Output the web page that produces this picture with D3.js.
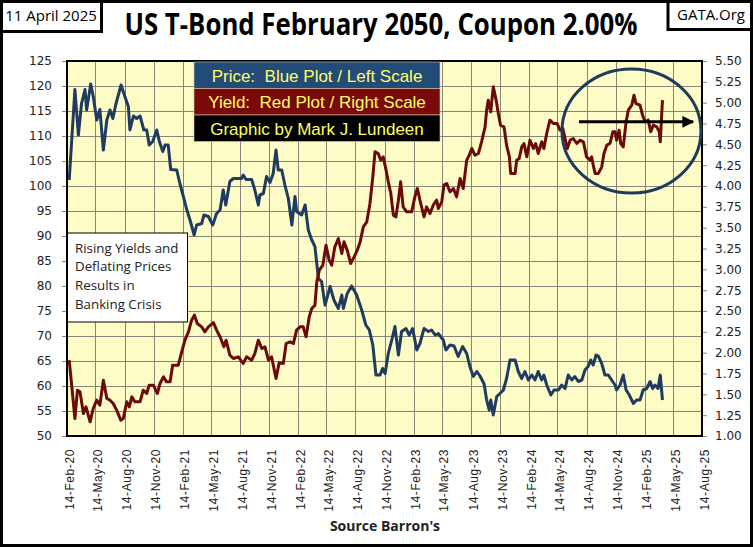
<!DOCTYPE html>
<html>
<head>
<meta charset="utf-8">
<script src="https://cdn.jsdelivr.net/npm/d3@7"></script>
<style>
  body { margin: 0; background: #fff; }
  svg { display: block; }
</style>
</head>
<body>
<svg id="chart"></svg>
<script>
// tick labels
var xTickLabels = ["14-Feb-20","14-May-20","14-Aug-20","14-Nov-20","14-Feb-21","14-May-21","14-Aug-21","14-Nov-21",
  "14-Feb-22","14-May-22","14-Aug-22","14-Nov-22","14-Feb-23","14-May-23","14-Aug-23","14-Nov-23",
  "14-Feb-24","14-May-24","14-Aug-24","14-Nov-24","14-Feb-25","14-May-25","14-Aug-25"];
var priceTicks = [50,55,60,65,70,75,80,85,90,95,100,105,110,115,120,125];
var yieldTicks = [1.00,1.25,1.50,1.75,2.00,2.25,2.50,2.75,3.00,3.25,3.50,3.75,4.00,4.25,4.50,4.75,5.00,5.25,5.50];

// weekly price of the bond (left scale)
var priceData = [
  ["2020-02-21",101.2],["2020-03-10",119.3],["2020-03-21",110.2],["2020-03-31",116.5],["2020-04-11",119.3],
  ["2020-04-16",115.2],["2020-04-29",120.4],["2020-05-07",117.9],["2020-05-18",113.2],["2020-05-28",115.3],
  ["2020-06-08",107.2],["2020-06-19",113.2],["2020-06-29",115.2],["2020-07-08",113.5],["2020-07-18",116.5],
  ["2020-08-03",120.2],["2020-08-15",117.9],["2020-08-26",115.9],["2020-08-31",111.2],["2020-09-11",114.0],
  ["2020-09-21",113.5],["2020-10-02",114.0],["2020-10-14",111.2],["2020-10-23",111.2],["2020-10-31",108.2],
  ["2020-11-11",108.9],["2020-11-24",111.2],["2020-12-02",108.9],["2020-12-13",106.9],["2020-12-20",108.2],
  ["2020-12-30",108.2],["2021-01-07",103.3],["2021-01-26",103.2],["2021-02-05",100.5],["2021-02-16",97.9],
  ["2021-02-27",95.2],["2021-03-09",93.2],["2021-03-22",90.2],["2021-03-30",92.2],["2021-04-15",92.5],
  ["2021-04-22",94.2],["2021-05-06",93.9],["2021-05-20",92.2],["2021-06-01",94.5],["2021-06-12",95.2],
  ["2021-06-22",99.2],["2021-06-30",96.2],["2021-07-13",100.9],["2021-07-24",101.5],["2021-08-19",101.5],
  ["2021-08-24",102.2],["2021-09-02",101.3],["2021-09-20",101.3],["2021-09-30",99.2],["2021-10-11",96.2],
  ["2021-10-16",98.2],["2021-10-27",98.5],["2021-11-06",101.9],["2021-11-17",100.7],["2021-11-27",102.5],
  ["2021-12-06",107.2],["2021-12-13",103.2],["2021-12-24",103.2],["2022-01-03",100.2],["2022-01-14",97.5],
  ["2022-01-25",92.2],["2022-02-04",97.9],["2022-02-09",94.9],["2022-02-25",94.2],["2022-03-08",96.2],
  ["2022-03-18",91.2],["2022-03-29",89.2],["2022-04-08",87.9],["2022-04-19",81.5],["2022-04-29",80.9],
  ["2022-05-10",76.2],["2022-05-26",79.9],["2022-06-07",77.2],["2022-06-21",75.5],["2022-07-02",78.2],
  ["2022-07-07",75.5],["2022-07-19",78.5],["2022-08-02",80.0],["2022-08-18",78.2],["2022-09-03",75.2],
  ["2022-09-16",72.2],["2022-09-27",71.2],["2022-10-08",68.2],["2022-10-18",62.2],["2022-10-31",62.2],
  ["2022-11-08",63.5],["2022-11-16",62.5],["2022-11-26",66.5],["2022-12-07",69.2],["2022-12-17",71.9],
  ["2022-12-28",66.2],["2023-01-07",70.9],["2023-01-21",71.5],["2023-01-31",70.2],["2023-02-11",71.5],
  ["2023-02-24",67.2],["2023-03-06",68.5],["2023-03-19",71.5],["2023-04-02",70.9],["2023-04-12",71.2],
  ["2023-04-23",70.2],["2023-05-03",70.5],["2023-05-19",69.2],["2023-05-27",67.2],["2023-06-09",68.2],
  ["2023-06-22",68.0],["2023-07-05",65.9],["2023-07-19",67.9],["2023-08-01",66.5],["2023-08-11",63.9],
  ["2023-08-22",61.9],["2023-09-02",62.9],["2023-09-12",62.0],["2023-09-25",60.4],["2023-10-03",57.2],
  ["2023-10-11",55.2],["2023-10-16",57.2],["2023-10-24",54.2],["2023-11-04",57.9],["2023-11-14",58.5],
  ["2023-11-25",59.2],["2023-12-05",61.5],["2023-12-16",65.2],["2024-01-01",65.2],["2024-01-11",62.9],
  ["2024-01-22",61.5],["2024-02-01",62.9],["2024-02-12",61.2],["2024-02-23",62.2],["2024-03-04",61.2],
  ["2024-03-14",62.9],["2024-03-25",61.2],["2024-04-01",62.2],["2024-04-10",60.2],["2024-04-23",58.2],
  ["2024-05-03",59.2],["2024-05-17",59.2],["2024-05-27",60.2],["2024-06-07",59.5],["2024-06-17",62.2],
  ["2024-06-28",61.2],["2024-07-08",61.9],["2024-07-19",60.9],["2024-07-30",61.2],["2024-08-09",63.2],
  ["2024-08-19",63.9],["2024-08-27",65.2],["2024-09-04",64.2],["2024-09-13",66.2],["2024-09-20",66.0],
  ["2024-10-01",64.5],["2024-10-11",62.2],["2024-10-22",62.2],["2024-11-01",61.2],["2024-11-12",60.2],
  ["2024-11-17",59.2],["2024-11-28",60.2],["2024-12-08",62.2],["2024-12-17",59.2],["2024-12-27",58.2],
  ["2025-01-09",56.5],["2025-01-19",57.2],["2025-01-30",57.2],["2025-02-09",59.2],["2025-02-20",59.5],
  ["2025-03-03",60.9],["2025-03-11",59.5],["2025-03-18",60.2],["2025-03-28",59.5],["2025-04-04",62.2],
  ["2025-04-11",57.2]
];

// weekly yield to maturity (right scale)
var yieldData = [
  ["2020-02-21",1.91],["2020-03-10",1.21],["2020-03-18",1.55],["2020-03-26",1.53],["2020-04-06",1.27],
  ["2020-04-14",1.35],["2020-04-27",1.17],["2020-05-07",1.33],["2020-05-18",1.43],["2020-05-28",1.37],
  ["2020-06-08",1.67],["2020-06-19",1.45],["2020-06-29",1.43],["2020-07-09",1.39],["2020-07-20",1.31],
  ["2020-08-02",1.19],["2020-08-10",1.21],["2020-08-21",1.41],["2020-08-29",1.35],["2020-09-06",1.47],
  ["2020-09-16",1.41],["2020-10-02",1.41],["2020-10-12",1.55],["2020-10-23",1.51],["2020-10-31",1.61],
  ["2020-11-13",1.61],["2020-11-26",1.51],["2020-12-04",1.63],["2020-12-15",1.71],["2020-12-25",1.65],
  ["2021-01-05",1.65],["2021-01-13",1.85],["2021-01-31",1.85],["2021-02-08",1.97],["2021-02-21",2.15],
  ["2021-03-04",2.25],["2021-03-14",2.39],["2021-03-23",2.45],["2021-04-01",2.35],["2021-04-15",2.31],
  ["2021-04-25",2.25],["2021-05-06",2.31],["2021-05-22",2.36],["2021-06-01",2.27],["2021-06-12",2.19],
  ["2021-06-24",2.07],["2021-07-01",2.15],["2021-07-13",1.97],["2021-07-24",1.93],["2021-08-09",1.95],
  ["2021-08-24",1.87],["2021-09-04",1.95],["2021-09-20",1.91],["2021-09-30",1.99],["2021-10-11",2.15],
  ["2021-10-22",2.05],["2021-11-01",2.07],["2021-11-12",1.91],["2021-11-22",1.95],["2021-12-06",1.69],
  ["2021-12-16",1.88],["2021-12-29",1.87],["2022-01-07",2.11],["2022-01-19",2.13],["2022-01-30",2.11],
  ["2022-02-09",2.27],["2022-02-20",2.31],["2022-03-02",2.31],["2022-03-11",2.19],["2022-03-21",2.43],
  ["2022-03-29",2.53],["2022-04-08",2.57],["2022-04-14",2.85],["2022-04-22",2.99],["2022-05-03",3.05],
  ["2022-05-13",3.29],["2022-05-23",3.11],["2022-05-31",3.05],["2022-06-10",3.27],["2022-06-21",3.37],
  ["2022-07-02",3.19],["2022-07-09",3.33],["2022-07-19",3.23],["2022-07-30",3.07],["2022-08-10",3.15],
  ["2022-08-20",3.23],["2022-08-29",3.33],["2022-09-08",3.51],["2022-09-19",3.57],["2022-09-29",3.79],
  ["2022-10-08",4.11],["2022-10-15",4.41],["2022-10-25",4.39],["2022-11-02",4.31],["2022-11-10",4.35],
  ["2022-11-19",4.19],["2022-11-26",4.05],["2022-12-04",3.91],["2022-12-12",3.65],["2022-12-20",3.63],
  ["2022-12-28",3.83],["2023-01-04",4.05],["2023-01-12",3.75],["2023-01-23",3.69],["2023-02-08",3.69],
  ["2023-02-18",3.87],["2023-02-26",3.97],["2023-03-06",3.83],["2023-03-19",3.63],["2023-03-27",3.75],
  ["2023-04-07",3.67],["2023-04-17",3.77],["2023-04-28",3.83],["2023-05-03",3.73],["2023-05-14",3.81],
  ["2023-05-21",4.01],["2023-05-30",4.03],["2023-06-09",3.93],["2023-06-20",3.97],["2023-06-30",3.87],
  ["2023-07-11",4.09],["2023-07-21",3.97],["2023-08-01",4.31],["2023-08-09",4.37],["2023-08-17",4.45],
  ["2023-08-27",4.37],["2023-09-07",4.39],["2023-09-17",4.53],["2023-09-28",4.71],["2023-10-03",4.91],
  ["2023-10-08",5.03],["2023-10-16",4.89],["2023-10-24",5.19],["2023-11-02",5.03],["2023-11-09",4.87],
  ["2023-11-16",4.73],["2023-11-27",4.71],["2023-12-05",4.49],["2023-12-14",4.35],["2023-12-18",4.15],
  ["2024-01-01",4.15],["2024-01-06",4.31],["2024-01-14",4.33],["2024-01-22",4.47],["2024-01-29",4.51],
  ["2024-02-07",4.35],["2024-02-17",4.55],["2024-02-28",4.45],["2024-03-06",4.51],["2024-03-14",4.39],
  ["2024-03-25",4.53],["2024-04-01",4.45],["2024-04-10",4.63],["2024-04-20",4.79],["2024-05-01",4.75],
  ["2024-05-13",4.75],["2024-05-22",4.67],["2024-05-31",4.69],["2024-06-07",4.57],["2024-06-14",4.45],
  ["2024-06-23",4.55],["2024-07-03",4.57],["2024-07-14",4.51],["2024-07-24",4.55],["2024-08-04",4.53],
  ["2024-08-14",4.35],["2024-08-25",4.31],["2024-08-30",4.35],["2024-09-04",4.25],["2024-09-10",4.15],
  ["2024-09-20",4.15],["2024-10-01",4.23],["2024-10-08",4.39],["2024-10-17",4.49],["2024-10-27",4.51],
  ["2024-11-05",4.65],["2024-11-12",4.65],["2024-11-17",4.55],["2024-11-25",4.67],["2024-11-30",4.51],
  ["2024-12-08",4.47],["2024-12-17",4.77],["2024-12-24",4.91],["2025-01-04",4.97],["2025-01-11",5.09],
  ["2025-01-17",4.99],["2025-01-30",4.97],["2025-02-07",4.85],["2025-02-15",4.77],["2025-02-25",4.79],
  ["2025-03-05",4.65],["2025-03-13",4.73],["2025-03-24",4.71],["2025-04-01",4.65],["2025-04-04",4.53],
  ["2025-04-11",5.03]
];

var legendRows = ["Price:  Blue Plot / Left Scale", "Yield:  Red Plot / Right Scale", "Graphic by Mark J. Lundeen"];
var noteLines = ["Rising Yields and", "Deflating Prices", "Results in", "Banking Crisis"];

var W = 753, H = 547;
var margin = {top: 61, right: 51, bottom: 111, left: 67};
var width = W - margin.left - margin.right;
var height = H - margin.top - margin.bottom;

var parseDate = d3.timeParse("%Y-%m-%d");
var parseTick = d3.timeParse("%d-%b-%y");
var tickDates = xTickLabels.map(parseTick);

var x = d3.scaleTime().domain([tickDates[0], tickDates[tickDates.length - 1]]).range([0, width]);
var yL = d3.scaleLinear().domain([50, 125]).range([height, 0]);
var yR = d3.scaleLinear().domain([1, 5.5]).range([height, 0]);

var svg = d3.select("#chart").attr("width", W).attr("height", H);

// dotted paper texture for the plot area
var defs = svg.append("defs");
var pat = defs.append("pattern").attr("id", "paper").attr("width", 4).attr("height", 4)
  .attr("patternUnits", "userSpaceOnUse");
pat.append("rect").attr("width", 4).attr("height", 4).attr("fill", "#FFFFC9");
pat.append("rect").attr("x", 1).attr("y", 1).attr("width", 1).attr("height", 1).attr("fill", "#EEEAB4");
pat.append("rect").attr("x", 3).attr("y", 3).attr("width", 1).attr("height", 1).attr("fill", "#F3F0BC");
defs.append("marker").attr("id", "arrowHead").attr("viewBox", "0 0 10 10")
  .attr("refX", 9).attr("refY", 5).attr("markerWidth", 4).attr("markerHeight", 4)
  .attr("orient", "auto")
  .append("path").attr("d", "M0,0L10,5L0,10z").attr("fill", "#000");

svg.append("rect").attr("width", W).attr("height", H).attr("fill", "#fff");

// header
var headFont = "'Liberation Sans Narrow', 'Open Sans', sans-serif";
svg.append("rect").attr("x", 1.5).attr("y", 1.5).attr("width", 100).attr("height", 30)
  .attr("fill", "#fff").attr("stroke", "#000").attr("stroke-width", 3);
svg.append("text").attr("x", 51).attr("y", 21).attr("text-anchor", "middle")
  .style("font-family", headFont).style("font-size", "15px")
  .text("11 April 2025");
svg.append("rect").attr("x", 668).attr("y", 1.5).attr("width", 83.5).attr("height", 28)
  .attr("fill", "#fff").attr("stroke", "#000").attr("stroke-width", 3);
svg.append("text").attr("x", 711).attr("y", 20).attr("text-anchor", "middle")
  .style("font-family", headFont).style("font-size", "15px")
  .text("GATA.Org");
svg.append("g").attr("transform", "translate(381,35) scale(0.86,1)")
  .append("text").attr("x", 0).attr("y", 0).attr("text-anchor", "middle")
  .style("font-family", headFont).style("font-weight", "bold")
  .style("font-size", "30px")
  .text("US T-Bond February 2050, Coupon 2.00%");

var chart = svg.append("g").attr("transform", "translate(" + margin.left + "," + margin.top + ")");

chart.append("rect").attr("width", width).attr("height", height).attr("fill", "url(#paper)");

// grid
chart.append("g").attr("class", "grid")
  .selectAll("line.h").data(priceTicks).enter().append("line")
  .attr("x1", 0).attr("x2", width)
  .attr("y1", function(d) { return yL(d) + 0.5; }).attr("y2", function(d) { return yL(d) + 0.5; })
  .attr("stroke", "#85857a").attr("stroke-width", 1);
chart.append("g").attr("class", "grid")
  .selectAll("line.v").data(tickDates).enter().append("line")
  .attr("y1", 0).attr("y2", height)
  .attr("x1", function(d) { return Math.round(x(d)) + 0.5; }).attr("x2", function(d) { return Math.round(x(d)) + 0.5; })
  .attr("stroke", "#85857a").attr("stroke-width", 1);

var axisFont = "'DejaVu Sans', Verdana, sans-serif";

var leftAxis = chart.append("g").attr("class", "y axis")
  .call(d3.axisLeft(yL).tickValues(priceTicks).tickSize(5).tickPadding(10).tickFormat(d3.format("d")));
var rightAxis = chart.append("g").attr("class", "y axis")
  .attr("transform", "translate(" + width + ",0)")
  .call(d3.axisRight(yR).tickValues(yieldTicks).tickSize(5).tickPadding(8).tickFormat(d3.format(".2f")));
var bottomAxis = chart.append("g").attr("class", "x axis")
  .attr("transform", "translate(0," + height + ")")
  .call(d3.axisBottom(x).tickValues(tickDates).tickSize(0).tickFormat(function(d, i) { return xTickLabels[i]; }));

[leftAxis, rightAxis, bottomAxis].forEach(function(a) {
  a.select(".domain").remove();
  a.selectAll(".tick line").attr("stroke", "#888");
  a.selectAll("text").style("font-family", axisFont).style("font-size", "12px").attr("fill", "#222");
});
bottomAxis.selectAll("text")
  .style("font-family", "'Liberation Sans', Arial, sans-serif")
  .style("font-size", "12px").style("letter-spacing", "0.6px")
  .attr("transform", "rotate(-90)")
  .attr("text-anchor", "end")
  .attr("x", -13).attr("y", 2).attr("dy", "0.35em");

// lines
var priceLine = d3.line()
  .x(function(d) { return x(parseDate(d[0])); })
  .y(function(d) { return yL(d[1]); });
var yieldLine = d3.line()
  .x(function(d) { return x(parseDate(d[0])); })
  .y(function(d) { return yR(d[1]); });

chart.append("path").datum(priceData).attr("d", priceLine)
  .attr("fill", "none").attr("stroke", "#1F3B60").attr("stroke-width", 3)
  .attr("stroke-linejoin", "round");
chart.append("path").datum(yieldData).attr("d", yieldLine)
  .attr("fill", "none").attr("stroke", "#6A0A0A").attr("stroke-width", 3)
  .attr("stroke-linejoin", "round");

// plot frame
chart.append("rect").attr("width", width).attr("height", height)
  .attr("fill", "none").attr("stroke", "#000").attr("stroke-width", 2);

// legend box
var legendColors = ["#234B78", "#7A0A0A", "#000000"];
var legend = chart.append("g").attr("transform", "translate(127,1)");
legend.selectAll("rect").data(legendRows).enter().append("rect")
  .attr("x", 0).attr("y", function(d, i) { return i * 26.5; })
  .attr("width", 246).attr("height", 26.5)
  .attr("fill", function(d, i) { return legendColors[i]; })
  .attr("stroke", "#d8c9b0").attr("stroke-width", 0.6);
legend.selectAll("text").data(legendRows).enter().append("text")
  .attr("x", 123).attr("y", function(d, i) { return i * 26.5 + 19.5; })
  .attr("text-anchor", "middle")
  .style("font-family", "'Liberation Sans', Arial, sans-serif").style("font-size", "17px")
  .attr("fill", "#FFFF66")
  .attr("xml:space", "preserve")
  .text(function(d) { return d; });

// note box
var note = chart.append("g").attr("transform", "translate(0," + yL(90) + ")");
note.append("rect").attr("x", 0.5).attr("y", -3).attr("width", 120).attr("height", 89)
  .attr("fill", "#fff").attr("stroke", "#000").attr("stroke-width", 1);
note.selectAll("text").data(noteLines).enter().append("text")
  .attr("x", 8).attr("y", function(d, i) { return 16.5 + i * 18.8; })
  .style("font-family", "'Open Sans', sans-serif").style("font-size", "13.3px")
  .attr("fill", "#222")
  .text(function(d) { return d; });

// circled recent range and flat arrow
var circleCenter = [parseDate("2025-01-03"), 4.66];
chart.append("ellipse")
  .attr("cx", x(circleCenter[0])).attr("cy", yR(circleCenter[1]))
  .attr("rx", 69.5).attr("ry", 62)
  .attr("fill", "none").attr("stroke", "#1F3A5A").attr("stroke-width", 3);
var arrowFrom = [parseDate("2024-07-21"), 4.77], arrowTo = [parseDate("2025-07-17"), 4.77];
chart.append("line")
  .attr("x1", x(arrowFrom[0])).attr("y1", yR(arrowFrom[1]))
  .attr("x2", x(arrowTo[0])).attr("y2", yR(arrowTo[1]))
  .attr("stroke", "#000").attr("stroke-width", 3).attr("marker-end", "url(#arrowHead)");

svg.append("text").attr("x", 385).attr("y", 531).attr("text-anchor", "middle")
  .style("font-family", headFont).style("font-weight", "bold")
  .style("font-size", "14px").attr("fill", "#222")
  .text("Source Barron's");

// outer frame
svg.append("rect").attr("x", 1.5).attr("y", 1.5).attr("width", W - 3).attr("height", H - 3)
  .attr("fill", "none").attr("stroke", "#000").attr("stroke-width", 3);
</script>
</body>
</html>
